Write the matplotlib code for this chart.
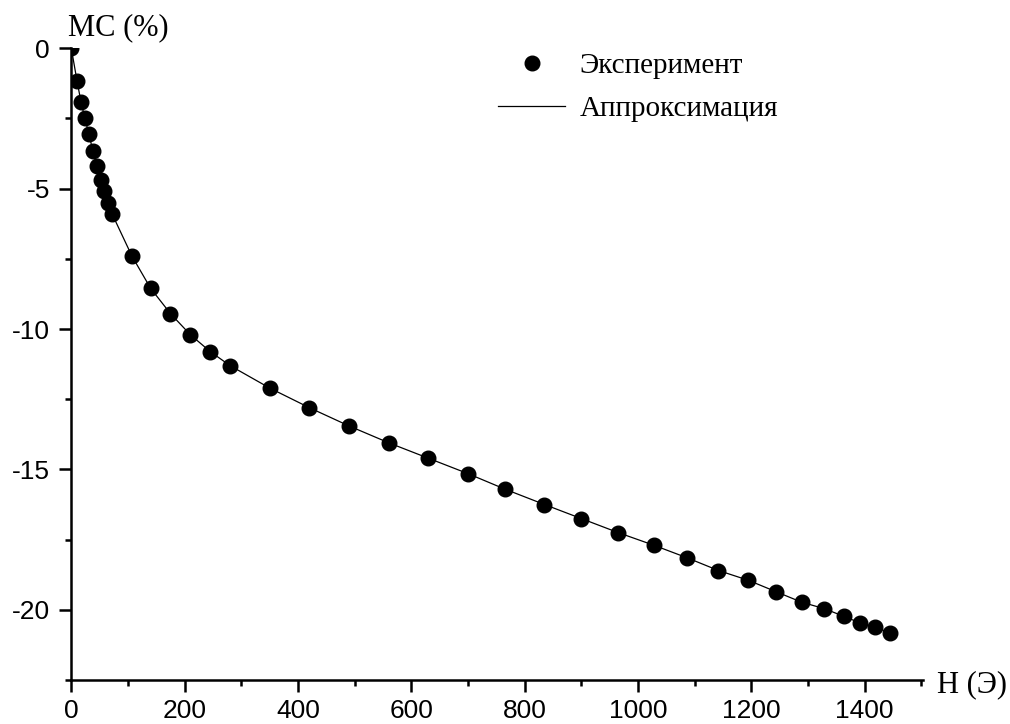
import matplotlib
matplotlib.use('Agg')
import matplotlib.pyplot as plt
from matplotlib.ticker import MultipleLocator
from matplotlib.lines import Line2D

plt.rcParams['axes.unicode_minus'] = False

# magnetic field H (Oe) and magnetoresistance MC (%)
H = [0, 10, 17, 24, 31, 38, 45, 52, 58, 64, 72, 107, 140, 175, 210, 245, 280,
     350, 420, 490, 560, 630, 700, 765, 835, 900, 965, 1028, 1087, 1142, 1195,
     1243, 1289, 1329, 1363, 1391, 1419, 1444]
MC = [0, -1.15, -1.9, -2.5, -3.05, -3.65, -4.2, -4.7, -5.1, -5.5, -5.9, -7.4,
      -8.55, -9.45, -10.2, -10.8, -11.3, -12.1, -12.8, -13.45, -14.05, -14.6,
      -15.15, -15.7, -16.25, -16.75, -17.25, -17.7, -18.15, -18.6, -18.95,
      -19.35, -19.73, -19.96, -20.23, -20.46, -20.62, -20.82]

fig = plt.figure(figsize=(10.10, 7.24), dpi=100)
ax = fig.add_axes([71.3/1010, 1-680/724, (923-71.3)/1010, (680-48.3)/724])

ax.plot(H, MC, color='black', lw=0.9, zorder=2)
ax.plot(H, MC, 'o', color='black', ms=10.5, zorder=3)

ax.set_xlim(0, 1503)
ax.set_ylim(-22.5, 0)
ax.xaxis.set_major_locator(MultipleLocator(200))
ax.xaxis.set_minor_locator(MultipleLocator(100))
ax.yaxis.set_major_locator(MultipleLocator(5))
ax.yaxis.set_minor_locator(MultipleLocator(2.5))

for s in ['top', 'right']:
    ax.spines[s].set_visible(False)
for s in ['left', 'bottom']:
    ax.spines[s].set_linewidth(1.8)

ax.tick_params(which='major', length=8.5, width=1.8, labelsize=19)
ax.tick_params(which='minor', length=4.3, width=1.8)
ax.tick_params(axis='x', which='major', pad=5)
ax.tick_params(axis='y', which='major', pad=7)
for lab in ax.get_xticklabels() + ax.get_yticklabels():
    lab.set_fontfamily('Liberation Sans')

fig.text(68/1010, 1-28/724, 'MC (%)', family='Liberation Serif', fontsize=22,
         ha='left', va='center')
fig.text(937/1010, 1-685/724, 'H (Э)', family='Liberation Serif', fontsize=22,
         ha='left', va='center')

handles = [Line2D([], [], ls='none', marker='o', color='black', ms=10.5),
           Line2D([], [], color='black', lw=0.9)]
fig.legend(handles, ['Эксперимент', 'Аппроксимация'], loc='upper left',
           bbox_to_anchor=(498/1010, 1-53/724), frameon=False, borderpad=0,
           borderaxespad=0, handlelength=2.3, handletextpad=0.5,
           labelspacing=0.55, prop={'family': 'Liberation Serif', 'size': 21})

fig.savefig('out.png', dpi=100)
